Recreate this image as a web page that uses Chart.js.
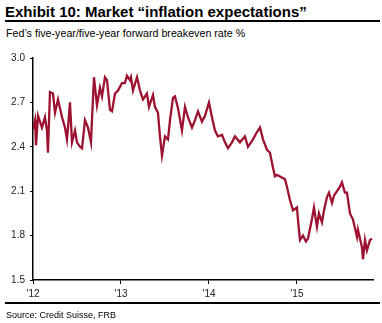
<!DOCTYPE html>
<html lang="en">
<head>
    <meta charset="UTF-8" />
    <title>Exhibit 10: Market inflation expectations</title>
    <script src="https://cdn.jsdelivr.net/npm/chart.js@4.4.1/dist/chart.umd.min.js"></script>
    <style>
        html, body { margin: 0; padding: 0; background: #fff; }
        body { width: 382px; height: 323px; position: relative; overflow: hidden;
               font-family: "Liberation Sans", Arial, sans-serif; color: #000; }
        .title { position: absolute; left: 5px; top: 3px; font-size: 15px; font-weight: bold; white-space: nowrap; }
        .rule { position: absolute; left: 5px; width: 375px; height: 2px; background: #000; }
        .sub { position: absolute; left: 6px; top: 27px; font-size: 10.7px; white-space: nowrap; }
        .source { position: absolute; left: 6px; top: 310px; font-size: 9px; white-space: nowrap; }
        #chart { position: absolute; left: 0; top: 0; }
    </style>
</head>
<body>
    <div class="title">Exhibit 10: Market “inflation expectations”</div>
    <div class="rule" style="top: 20px;"></div>
    <div class="sub">Fed’s five-year/five-year forward breakeven rate %</div>
    <canvas id="chart" width="382" height="323"></canvas>
    <div class="rule" style="top: 302px;"></div>
    <div class="source">Source: Credit Suisse, FRB</div>

    <script>
        // dates as decimal years
        const dates = [
            2012.000, 2012.023, 2012.034, 2012.057, 2012.102, 2012.136, 2012.159, 2012.170, 2012.193, 2012.227,
            2012.250, 2012.284, 2012.330, 2012.364, 2012.386, 2012.398, 2012.420, 2012.443, 2012.477, 2012.500,
            2012.534, 2012.557, 2012.591, 2012.625, 2012.659, 2012.670, 2012.693, 2012.727, 2012.761, 2012.784,
            2012.818, 2012.841, 2012.875, 2012.898, 2012.932, 2012.966, 2013.011, 2013.045, 2013.068, 2013.102,
            2013.114, 2013.136, 2013.182, 2013.216, 2013.250, 2013.295, 2013.318, 2013.364, 2013.386, 2013.420,
            2013.443, 2013.466, 2013.500, 2013.534, 2013.557, 2013.591, 2013.614, 2013.648, 2013.693, 2013.727,
            2013.761, 2013.807, 2013.841, 2013.875, 2013.920, 2013.955, 2014.000, 2014.034, 2014.068, 2014.102,
            2014.148, 2014.182, 2014.216, 2014.261, 2014.295, 2014.352, 2014.409, 2014.443, 2014.500, 2014.545,
            2014.580, 2014.614, 2014.659, 2014.693, 2014.727, 2014.750, 2014.773, 2014.807, 2014.864, 2014.886,
            2014.920, 2014.955, 2015.000, 2015.011, 2015.034, 2015.068, 2015.102, 2015.125, 2015.170, 2015.193,
            2015.227, 2015.250, 2015.284, 2015.307, 2015.341, 2015.364, 2015.398, 2015.420, 2015.455, 2015.489,
            2015.511, 2015.545, 2015.568, 2015.602, 2015.636, 2015.682, 2015.693, 2015.739, 2015.750, 2015.773,
            2015.795, 2015.830, 2015.852
        ];
        const rates = [
            2.52, 2.58, 2.41, 2.61, 2.53, 2.60, 2.51, 2.36, 2.77, 2.76,
            2.63, 2.72, 2.60, 2.53, 2.45, 2.53, 2.70, 2.43, 2.51, 2.43,
            2.40, 2.39, 2.58, 2.53, 2.43, 2.58, 2.87, 2.68, 2.80, 2.74,
            2.87, 2.85, 2.65, 2.64, 2.76, 2.78, 2.83, 2.83, 2.88, 2.85,
            2.87, 2.78, 2.87, 2.78, 2.72, 2.76, 2.67, 2.75, 2.67, 2.63,
            2.47, 2.34, 2.47, 2.45, 2.58, 2.73, 2.74, 2.66, 2.51, 2.67,
            2.60, 2.53, 2.58, 2.64, 2.57, 2.61, 2.70, 2.60, 2.51, 2.47,
            2.48, 2.43, 2.39, 2.43, 2.47, 2.43, 2.47, 2.40, 2.45, 2.50,
            2.53, 2.45, 2.38, 2.36, 2.26, 2.20, 2.21, 2.20, 2.18, 2.13,
            2.04, 1.97, 1.99, 1.91, 1.77, 1.80, 1.76, 1.78, 1.91, 1.99,
            1.86, 1.95, 1.89, 1.97, 2.06, 2.09, 2.02, 2.07, 2.10, 2.13,
            2.16, 2.09, 2.09, 1.95, 1.91, 1.79, 1.84, 1.72, 1.64, 1.77,
            1.70, 1.77, 1.78
        ];
        const xTicks = [2012, 2013, 2014, 2015];
        const xLabels = ["'12", "'13", "'14", "'15"];
        const yTicks = [1.5, 1.8, 2.1, 2.4, 2.7, 3.0];

        const ctx = document.getElementById('chart').getContext('2d');
        new Chart(ctx, {
            type: 'line',
            data: {
                datasets: [{
                    data: dates.map((d, i) => ({ x: d, y: rates[i] })),
                    borderColor: '#9c1230',
                    borderWidth: 2.3,
                    pointRadius: 0,
                    tension: 0,
                    fill: false
                }]
            },
            options: {
                responsive: false,
                animation: false,
                layout: { padding: { top: 58, right: 9, bottom: 23, left: 0 } },
                plugins: {
                    legend: { display: false },
                    tooltip: { enabled: false }
                },
                scales: {
                    x: {
                        type: 'linear',
                        min: 2012,
                        max: 2015.864,
                        afterBuildTicks: axis => { axis.ticks = xTicks.map(v => ({ value: v })); },
                        afterFit: axis => { axis.height = 20; },
                        ticks: {
                            callback: v => xLabels[xTicks.indexOf(v)],
                            color: '#222',
                            font: { family: 'Liberation Sans', size: 10 },
                            padding: 4,
                            maxRotation: 0
                        },
                        grid: { drawOnChartArea: false, tickLength: 4, color: '#000', lineWidth: 1 },
                        border: { display: true, color: '#000', width: 1.5 }
                    },
                    y: {
                        min: 1.5,
                        max: 3.0,
                        afterBuildTicks: axis => { axis.ticks = yTicks.map(v => ({ value: v })); },
                        afterFit: axis => { axis.width = 33; },
                        ticks: {
                            callback: v => v.toFixed(1),
                            color: '#222',
                            font: { family: 'Liberation Sans', size: 10 },
                            padding: 5
                        },
                        grid: { drawOnChartArea: false, tickLength: 3, color: '#000', lineWidth: 1 },
                        border: { display: true, color: '#000', width: 1.5 }
                    }
                }
            }
        });
    </script>
</body>
</html>
